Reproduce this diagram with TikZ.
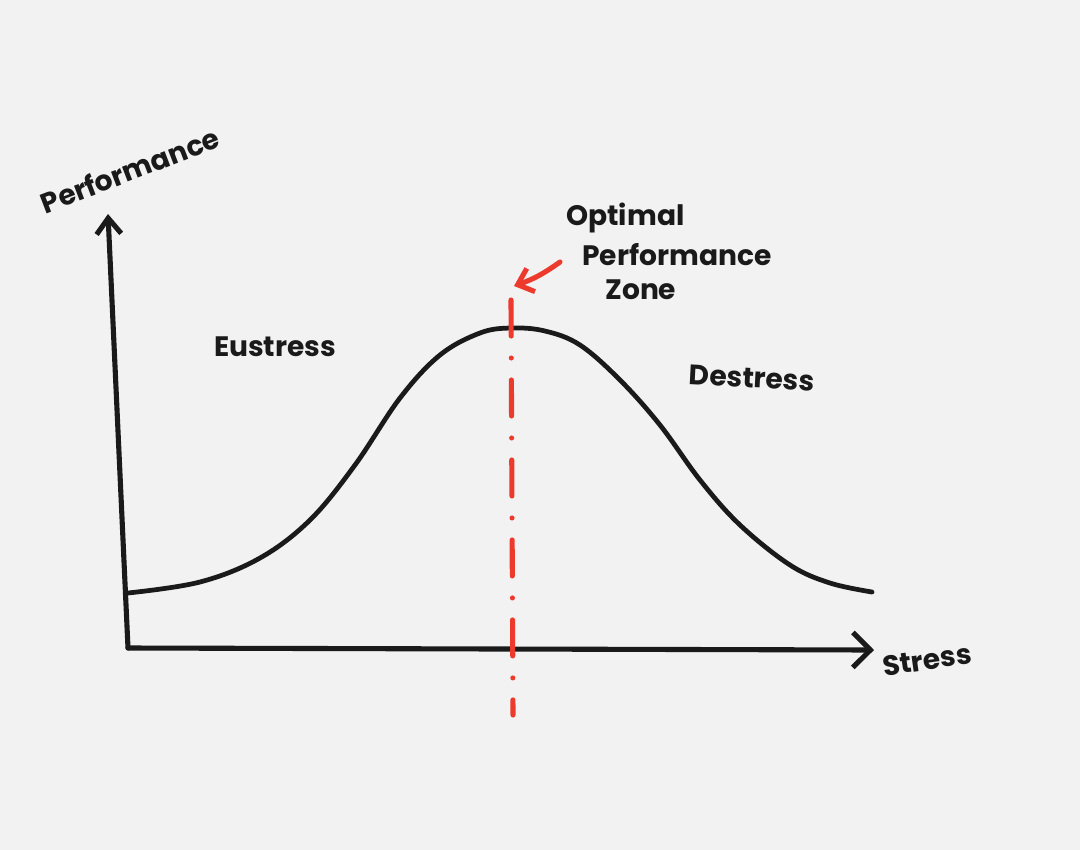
\documentclass[tikz,border=0pt]{standalone}
\usepackage{fontspec}
\setmainfont{Poppins}
\usetikzlibrary{arrows.meta}
\definecolor{bg}{HTML}{F2F2F2}
\definecolor{ink}{HTML}{1A1A1A}
\definecolor{redpen}{HTML}{EC3B2D}
\tikzset{
  axisline/.style={draw=ink, line width=2.9pt, line cap=round, line join=round},
  curveline/.style={draw=ink, line width=2.7pt, line cap=round},
  redline/.style={draw=redpen, line width=2.9pt, line cap=round},
  label/.style={text=ink, font=\bfseries\fontsize{16}{18}\selectfont, inner sep=0pt},
}
\begin{document}
\begin{tikzpicture}[x=0.02cm, y=-0.02cm]
\fill[bg] (0,0) rectangle (1080,850);
\useasboundingbox (0,0) rectangle (1080,850);
% axes
\coordinate (O) at (128,648);
\coordinate (ytop) at (108,214);
\coordinate (xend) at (874,650);
\draw[axisline, -{Straight Barb[length=9pt,width=14pt,line width=2.9pt]}] (O) -- (ytop);
\draw[axisline, -{Straight Barb[length=10pt,width=20pt,line width=2.9pt]}] (O) -- (xend);
% curve
\draw[curveline] plot[smooth, tension=0.6] coordinates {
 (128,593) (200,582) (260,558) (310,520) (355,465) (400,398) (440,355)
 (480,333) (511,328) (545,331) (580,345) (620,380) (660,425) (700,480)
 (740,525) (790,565) (830,583) (872,592)};
% red dash-dot line
\coordinate (rtop) at (511,300);
\coordinate (rbot) at (513,715);
\draw[redline, dash pattern=on 0.72cm off 0.44cm on 0cm off 0.44cm] (rtop) -- (rbot);
% red arrow
\coordinate (astart) at (560,262);
\coordinate (aend) at (514,286);
\draw[redline, -{Straight Barb[length=8pt,width=14pt,line width=2.9pt]}] (astart) to[bend left=8] (aend);
% labels
\node[label, rotate=21] (perf) at (130,170) {Performance};
\node[label] (eu) at (275,347) {Eustress};
\node[label, rotate=-3] (de) at (752,378) {Destress};
\node[label, rotate=8] (st) at (927,660) {Stress};
\node[label, anchor=west] (opt1) at (566,218) {Optimal};
\node[label, anchor=west] (opt2) at (582,255) {Performance};
\node[label, anchor=west] (opt3) at (605,290) {Zone};
\end{tikzpicture}
\end{document}
